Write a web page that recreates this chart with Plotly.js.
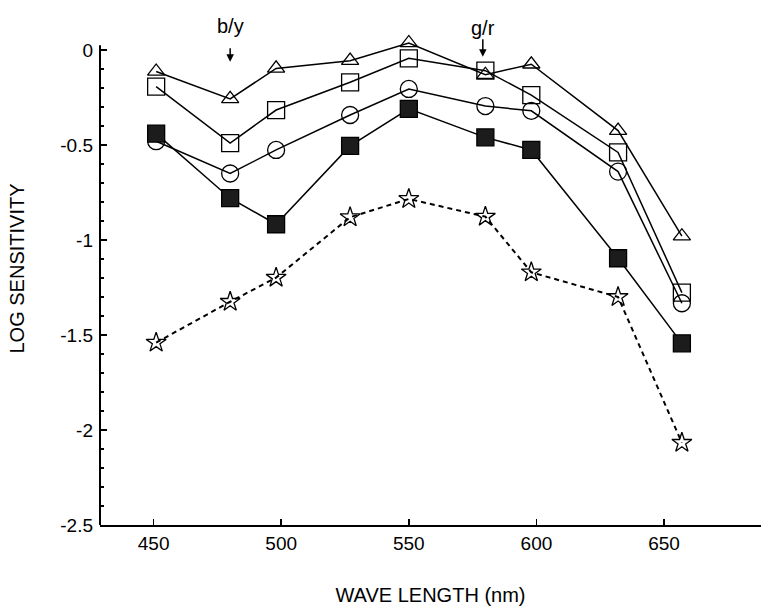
<!DOCTYPE html>
<html>
<head>
<meta charset="utf-8">
<script src="https://cdn.plot.ly/plotly-3.0.1.min.js"></script>
<style>
  html, body { margin: 0; padding: 0; background: #fff; }
  #chart { width: 763px; height: 612px; }
</style>
</head>
<body>
<div id="chart"></div>
<script>
// Data
const wavelength = [451, 480, 498, 527, 550, 580, 598, 632, 657];
const triangleSeries = [-0.113, -0.257, -0.097, -0.056, 0.037, -0.13, -0.075, -0.424, -0.98];
const openSquareSeries = [-0.193, -0.49, -0.316, -0.17, -0.044, -0.109, -0.237, -0.539, -1.277];
const circleSeries = [-0.48, -0.65, -0.526, -0.342, -0.205, -0.295, -0.32, -0.64, -1.333];
const filledSquareSeries = [-0.44, -0.78, -0.917, -0.505, -0.31, -0.46, -0.526, -1.096, -1.544];
const starSeries = [-1.54, -1.325, -1.198, -0.88, -0.784, -0.877, -1.17, -1.30, -2.067];

const xTickVals = [450, 500, 550, 600, 650];
const xTickText = ['450', '500', '550', '600', '650'];
const yTickVals = [0, -0.5, -1, -1.5, -2, -2.5];
const yTickText = ['0', '-0.5', '-1', '-1.5', '-2', '-2.5'];
const yMinorVals = [-0.1, -0.2, -0.3, -0.4, -0.6, -0.7, -0.8, -0.9, -1.1, -1.2, -1.3, -1.4,
                    -1.6, -1.7, -1.8, -1.9, -2.1, -2.2, -2.3, -2.4];

const markerLabels = [
  {text: 'b/y', x: 480, textY: 0.126, tipY: -0.062, len: 15},
  {text: 'g/r', x: 579, textY: 0.116, tipY: -0.035, len: 19}
];

const FONT = 'Liberation Sans, Arial, Helvetica, sans-serif';

function solidTrace(y, symbol, size, fill) {
  return {
    x: wavelength, y: y, type: 'scatter', mode: 'lines+markers',
    line: {color: '#000', width: 1.5},
    marker: {symbol: symbol, size: size, color: fill || '#000',
             line: {color: '#000', width: 1.3}},
    cliponaxis: false, showlegend: false
  };
}

const traces = [
  solidTrace(triangleSeries, 'triangle-up-open', 15),
  solidTrace(openSquareSeries, 'square-open', 17),
  solidTrace(circleSeries, 'circle-open', 17),
  solidTrace(filledSquareSeries, 'square', 17, '#1c1c1c'),
  {
    x: wavelength, y: starSeries, type: 'scatter', mode: 'lines+markers',
    line: {color: '#000', width: 2, dash: '5px,4px'},
    marker: {symbol: 'star-open', size: 15, color: '#000', line: {color: '#000', width: 1.3}},
    cliponaxis: false, showlegend: false
  }
];

const annotations = [];
markerLabels.forEach(m => {
  annotations.push({
    x: m.x, y: m.textY, xref: 'x', yref: 'y', text: m.text, showarrow: false,
    font: {family: FONT, size: 20, color: '#000'}
  });
  annotations.push({
    x: m.x, y: m.tipY, xref: 'x', yref: 'y', text: '', showarrow: true,
    ax: 0, ay: -m.len, arrowhead: 2, arrowsize: 1, arrowwidth: 1.5, arrowcolor: '#000'
  });
});

const Y_TOP = 0.2;
const layout = {
  width: 763, height: 612,
  margin: {l: 100, r: 2, t: 12, b: 87},
  paper_bgcolor: '#fff', plot_bgcolor: '#fff',
  font: {family: FONT, size: 19, color: '#000'},
  xaxis: {
    range: [429, 688], showgrid: false, zeroline: false,
    showline: true, linecolor: '#000', linewidth: 1.6,
    tickmode: 'array', tickvals: xTickVals, ticktext: xTickText,
    ticks: 'inside', ticklen: 6, tickwidth: 1.5, tickcolor: '#000',
    ticklabelstandoff: 1,
    title: {text: 'WAVE LENGTH (nm)', font: {family: FONT, size: 20}, standoff: 34}
  },
  yaxis: {
    range: [-2.5, Y_TOP], showgrid: false, zeroline: false,
    showline: false,
    tickmode: 'array', tickvals: yTickVals, ticktext: yTickText,
    ticks: 'inside', ticklen: 7, tickwidth: 1.5, tickcolor: '#000',
    ticklabelstandoff: 6,
    minor: {tickmode: 'array', tickvals: yMinorVals, ticks: 'inside', ticklen: 4, tickwidth: 1.3, tickcolor: '#000'},
    title: {text: 'LOG SENSITIVITY', font: {family: FONT, size: 20}, standoff: 30}
  },
  shapes: [
    {type: 'line', xref: 'paper', yref: 'y', x0: 0, x1: 0, y0: -2.5, y1: 0.025,
     line: {color: '#000', width: 2}}
  ],
  annotations: annotations
};

Plotly.newPlot('chart', traces, layout, {staticPlot: true, displayModeBar: false});
</script>
</body>
</html>
